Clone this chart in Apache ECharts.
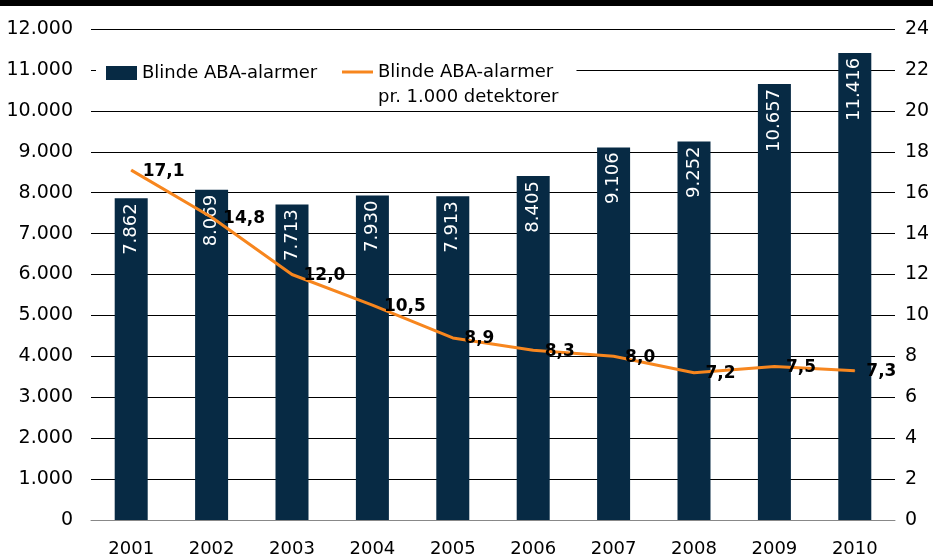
<!DOCTYPE html>
<html>
<head>
<meta charset="utf-8">
<script src="https://cdn.jsdelivr.net/npm/echarts@6/dist/echarts.min.js"></script>
<style>
  html, body { margin: 0; padding: 0; background: #fff; }
  #container { width: 933px; height: 560px; }
</style>
</head>
<body>
<div id="container"></div>
<script>
var years = ['2001', '2002', '2003', '2004', '2005', '2006', '2007', '2008', '2009', '2010'];
var alarms = [7862, 8069, 7713, 7930, 7913, 8405, 9106, 9252, 10657, 11416];
var perThousand = [17.1, 14.8, 12.0, 10.5, 8.9, 8.3, 8.0, 7.2, 7.5, 7.3];
var barName = 'Blinde ABA-alarmer';
var lineName = 'Blinde ABA-alarmer pr. 1.000 detektorer';

var dom = document.getElementById('container');
var myChart = echarts.init(dom, null, { renderer: 'canvas' });

var font = 'DejaVu Sans';
function dk(v) {
  return String(v).replace(/\B(?=(\d{3})+(?!\d))/g, '.');
}

var option = {
  animation: false,
  textStyle: { fontFamily: font },
  graphic: [
    { type: 'rect', left: 0, top: 0, shape: { width: 933, height: 6 }, style: { fill: '#000' } }
  ],
  legend: [
    {
      data: [{ name: barName, icon: 'rect' }],
      left: 96, top: 56,
      itemWidth: 31, itemHeight: 14, itemGap: 0,
      backgroundColor: '#fff',
      padding: [8, 30, 20, 10],
      textStyle: { fontFamily: font, fontSize: 18, color: '#000' },
      z: 10
    },
    {
      data: [{ name: lineName, icon: 'rect' }],
      left: 330, top: 38,
      itemWidth: 31, itemHeight: 3,
      backgroundColor: '#fff',
      padding: [0, 18, 0, 12],
      formatter: function () { return '{a|Blinde ABA-alarmer\npr. 1.000 detektorer}'; },
      textStyle: {
        fontFamily: font, fontSize: 18, color: '#000',
        rich: { a: { fontFamily: font, fontSize: 18, lineHeight: 25, padding: [25, 0, 0, 0] } }
      },
      z: 10
    }
  ],
  grid: { left: 91, right: 38, top: 29, bottom: 40 },
  xAxis: {
    type: 'category',
    data: years,
    axisLine: { lineStyle: { color: '#888' } },
    axisTick: { length: 8, lineStyle: { color: '#888' } },
    axisLabel: { color: '#000', fontSize: 18, margin: 20 }
  },
  yAxis: [
    {
      type: 'value', min: 0, max: 12000, interval: 1000,
      axisLine: { show: false }, axisTick: { show: false },
      splitLine: { lineStyle: { color: '#000', width: 1 } },
      axisLabel: { color: '#000', fontSize: 19, margin: 18, formatter: dk }
    },
    {
      type: 'value', min: 0, max: 24, interval: 2,
      axisLine: { show: false }, axisTick: { show: false },
      splitLine: { show: false },
      axisLabel: { color: '#000', fontSize: 19, margin: 10 }
    }
  ],
  series: [
    {
      name: barName,
      type: 'bar',
      data: alarms,
      barWidth: 33,
      itemStyle: { color: '#072a44' },
      label: {
        show: true,
        position: 'insideTop',
        rotate: 90,
        align: 'right',
        verticalAlign: 'middle',
        distance: 5,
        color: '#fff',
        fontSize: 18,
        fontFamily: font,
        formatter: function (p) { return dk(p.value); }
      }
    },
    {
      name: lineName,
      type: 'line',
      yAxisIndex: 1,
      data: perThousand,
      symbol: 'circle',
      symbolSize: 1,
      lineStyle: { color: '#f7861e', width: 3 },
      itemStyle: { color: '#f7861e' },
      label: {
        show: true,
        position: 'right',
        distance: 10,
        offset: [1, 1],
        color: '#000',
        fontWeight: 'bold',
        fontSize: 17,
        fontFamily: font,
        formatter: function (p) { return p.value.toFixed(1).replace('.', ','); }
      },
      z: 5
    }
  ]
};

myChart.setOption(option);
window.addEventListener('resize', myChart.resize);
</script>
</body>
</html>
